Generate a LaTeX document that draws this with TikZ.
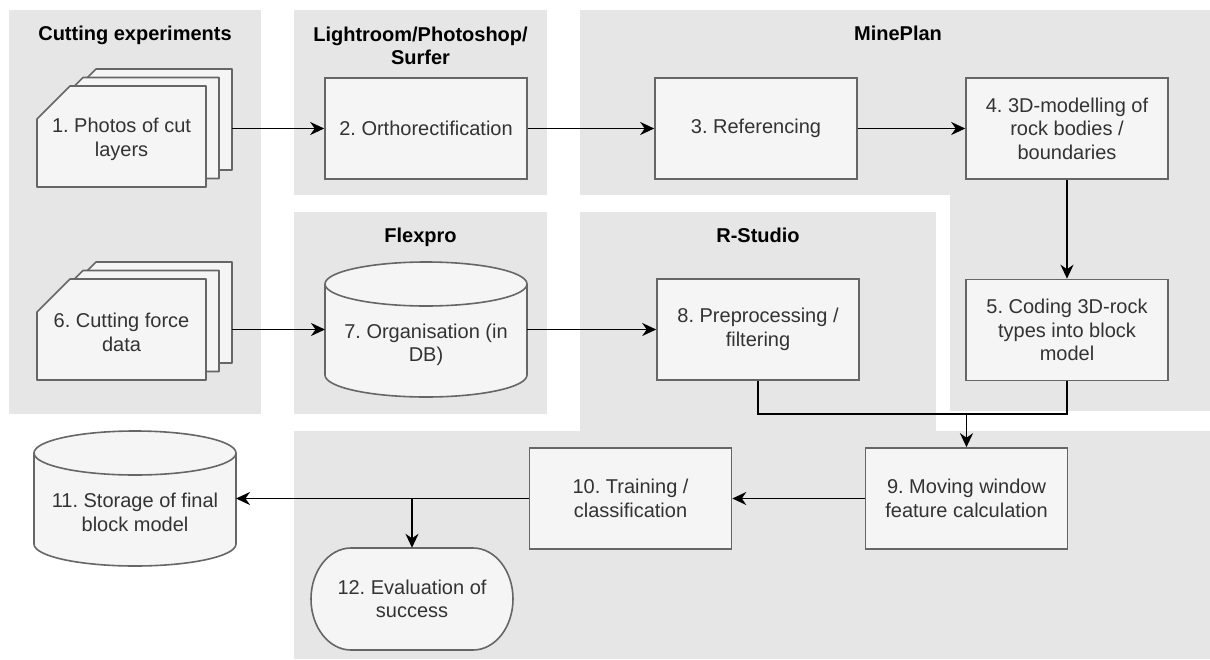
\documentclass[tikz,border=0pt]{standalone}
\usepackage{fontspec}
\setmainfont{Liberation Sans}
\usetikzlibrary{arrows.meta}
\definecolor{panelgray}{HTML}{E6E6E6}
\definecolor{boxfill}{HTML}{F5F5F5}
\definecolor{boxline}{HTML}{666666}
\definecolor{boxtext}{HTML}{333333}
\pgfdeclarelayer{panels}
\pgfdeclarelayer{outlines}
\pgfsetlayers{panels,outlines,main}
\frenchspacing

\begin{document}
\begin{tikzpicture}[x=1pt,y=-1pt,
  bodyfont/.style={font=\fontsize{20pt}{23.5pt}\selectfont},
  title/.style={font=\fontsize{20pt}{23pt}\selectfont\bfseries, text=black, align=center, inner sep=0pt},
  stepbox/.style={draw=boxline, fill=boxfill, line width=1.6pt, minimum width=202pt,
    minimum height=101pt, inner sep=0pt, align=center, text=boxtext, bodyfont},
  inscription/.style={align=center, text=boxtext, inner sep=0pt, bodyfont},
  holder/.style={inner sep=0pt, outer sep=0pt},
  outline/.style={draw=boxline, fill=boxfill, line width=1.6pt, line join=round},
  flow/.style={line width=1.8pt, -{Stealth[length=14pt,width=13pt,inset=4.5pt]}},
  plain/.style={line width=1.8pt}
]
\useasboundingbox (0,0) rectangle (1210,659);

% tool panels
\begin{pgfonlayer}{panels}
  \fill[panelgray] (9,10) rectangle (261,414);
  \fill[panelgray] (294,10) rectangle (547,195);
  \fill[panelgray] (580,10) rectangle (1210,195);
  \fill[panelgray] (950,10) rectangle (1210,411);
  \fill[panelgray] (294,212) rectangle (547,414);
  \fill[panelgray] (580,212) rectangle (936,431);
  \fill[panelgray] (294,431) rectangle (1210,659);
\end{pgfonlayer}

% panel titles
\node[title, anchor=base] (tcut) at (135,40) {Cutting experiments};
\node[title] (tlight) at (420.5,45.5) {Lightroom/Photoshop/\\Surfer};
\node[title, anchor=base] (tmine) at (898,40) {MinePlan};
\node[title, anchor=base] (tflex) at (420.5,242) {Flexpro};
\node[title, anchor=base] (trs) at (758,242) {R-Studio};

% stacked documents
\node[holder, minimum width=195pt, minimum height=118pt] (n1) at (134.5,128) {};
\node[holder, minimum width=195pt, minimum height=118pt] (n6) at (134.5,321) {};
\begin{pgfonlayer}{outlines}
  \foreach \stack in {n1,n6}{
    \begin{scope}[shift={(\stack.center)}]
      \foreach \dx/\dy in {26/-17,13/-8.5,0/0}
        \filldraw[outline, shift={(\dx,\dy)}]
          (-64.5,-42) -- (71.5,-42) -- (71.5,59) -- (-97.5,59) -- (-97.5,-9) -- cycle;
    \end{scope}
  }
\end{pgfonlayer}
\node[inscription] (n1t) at (121.5,139.5) {1. Photos of cut\\layers};
\node[inscription] (n6t) at (121.5,332.5) {6. Cutting force\\data};

% databases
\node[holder, minimum width=202pt, minimum height=135pt] (n7) at (426,329.5) {};
\node[holder, minimum width=202pt, minimum height=135pt] (n11) at (135,498.5) {};
\begin{pgfonlayer}{outlines}
  \foreach \drum in {n7,n11}{
    \begin{scope}[shift={(\drum.center)}]
      \filldraw[outline] (-101,-45.5) -- (-101,45.5)
        arc[start angle=180, end angle=0, x radius=101, y radius=22]
        -- (101,-45.5)
        arc[start angle=0, end angle=-180, x radius=101, y radius=22] -- cycle;
      \draw[outline, fill=none] (-101,-45.5)
        arc[start angle=180, end angle=0, x radius=101, y radius=22];
    \end{scope}
  }
\end{pgfonlayer}
\node[inscription] (n7t) at (426,345) {7. Organisation (in\\DB)};
\node[inscription] (n11t) at (135,512.5) {11. Storage of final\\block model};

% terminator
\node[inscription, minimum width=202pt, minimum height=102pt] (n12) at (412,599) {12. Evaluation of\\success};
\begin{pgfonlayer}{outlines}
  \begin{scope}[shift={(n12.center)}]
    \filldraw[outline] (-61,-51) -- (61,-51)
      arc[start angle=-90, end angle=90, x radius=40, y radius=51]
      -- (-61,51)
      arc[start angle=90, end angle=270, x radius=40, y radius=51] -- cycle;
  \end{scope}
\end{pgfonlayer}

% process steps
\node[stepbox] (n2) at (426,128.5) {2. Orthorectification};
\node[stepbox] (n3) at (756,128.5) {3. Referencing};
\node[stepbox] (n4) at (1067,128.5) {4. 3D-modelling of\\rock bodies /\\boundaries};
\node[stepbox] (n5) at (1067,330) {5. Coding 3D-rock\\types into block\\model};
\node[stepbox] (n8) at (758,329.5) {8. Preprocessing /\\filtering};
\node[stepbox] (n9) at (966.5,498.5) {9. Moving window\\feature calculation};
\node[stepbox] (n10) at (630.5,498.5) {10. Training /\\classification};

% connectors
\draw[flow] (n2.west -| n1.east) -- (n2.west);
\draw[flow] (n2) -- (n3);
\draw[flow] (n3) -- (n4);
\draw[flow] (n4) -- (n5);
\draw[flow] (n7.west -| n6.east) -- (n7.west);
\draw[flow] (n7) -- (n8);
\coordinate (merge) at (966.5,414);
\draw[plain] (n8.south) |- (merge);
\draw[plain] (n5.south) |- (merge);
\draw[flow] (merge) -- (n9.north);
\draw[flow] (n9) -- (n10);
\draw[flow] (n10.west) -- (n11.east);
\draw[flow] (n12.north |- n10.west) -- (n12.north);
\end{tikzpicture}
\end{document}
